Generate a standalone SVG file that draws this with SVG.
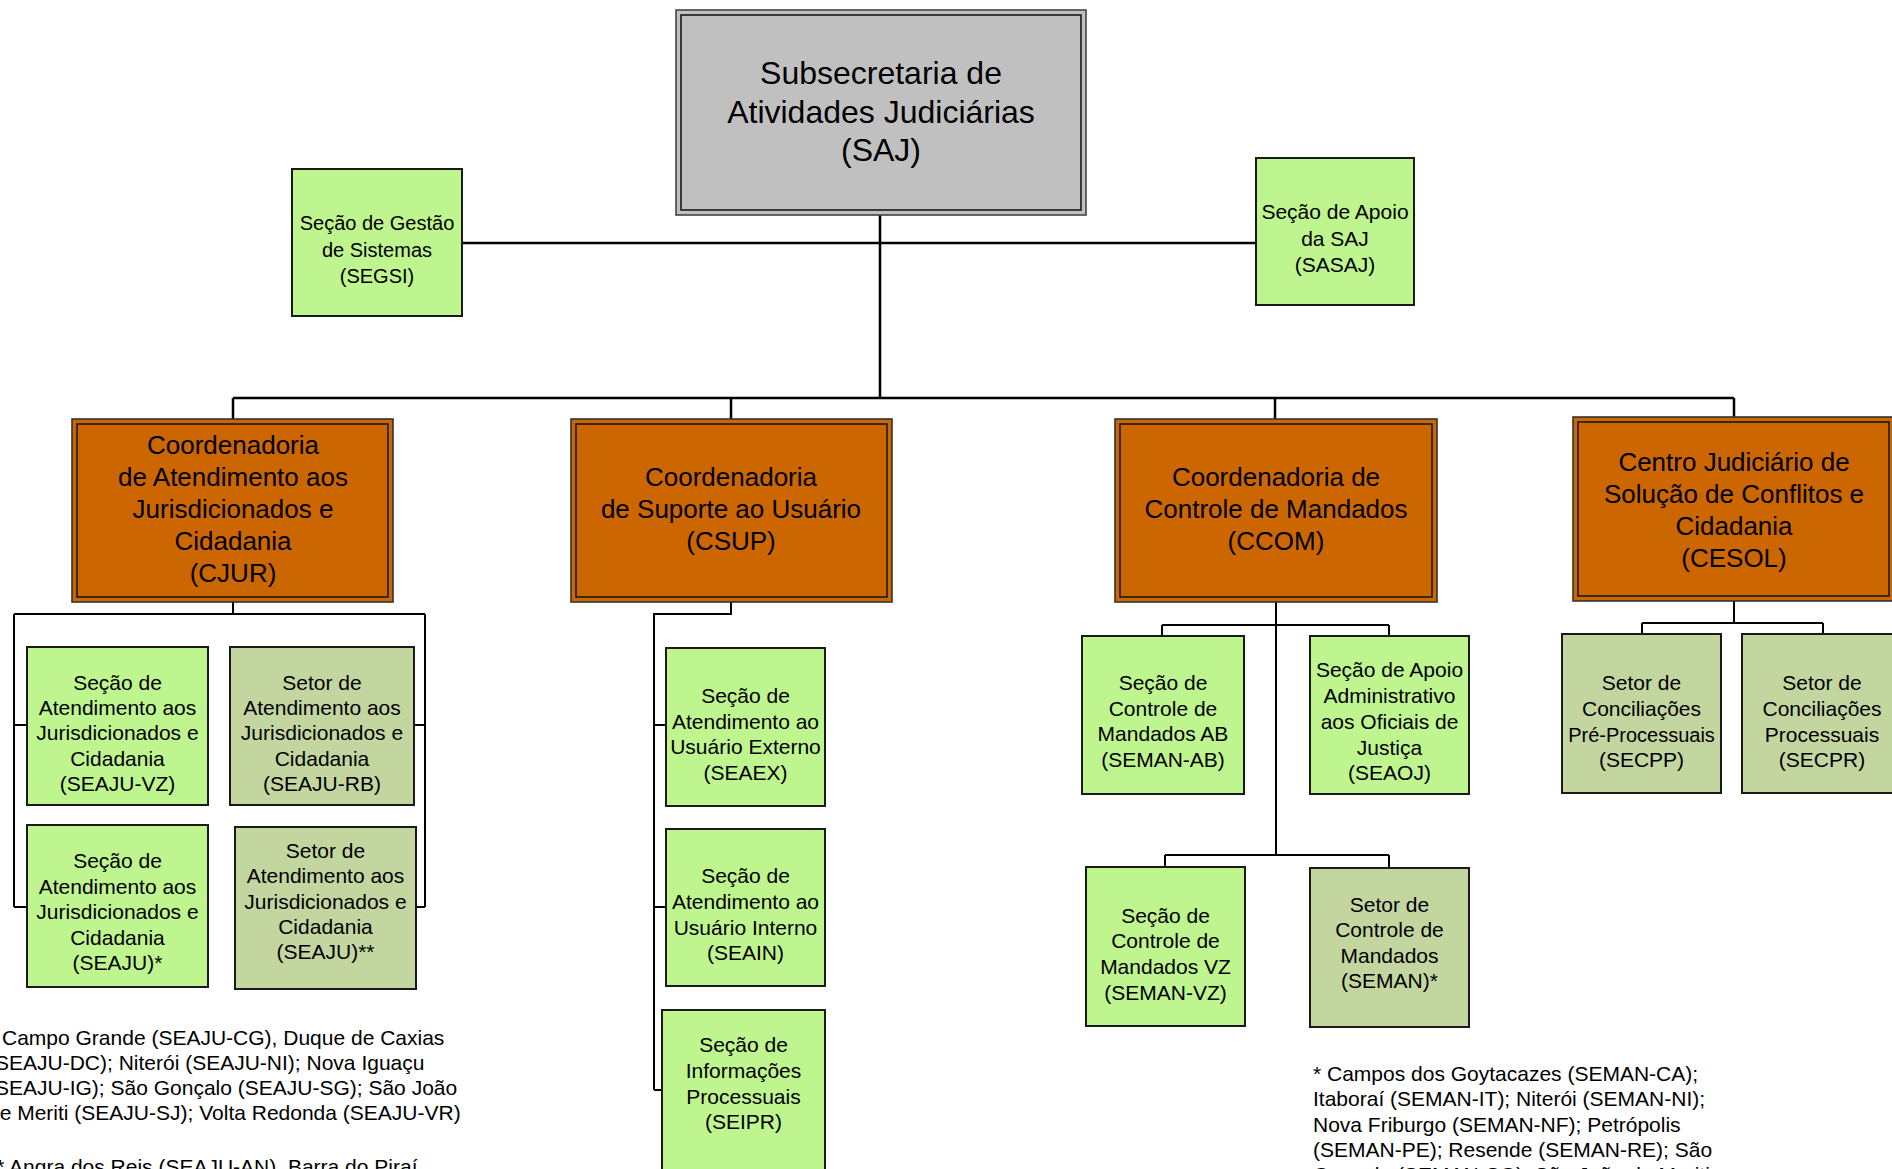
<svg xmlns="http://www.w3.org/2000/svg" width="1892" height="1169" viewBox="0 0 1892 1169">
<style>
text{font-family:"Liberation Sans",Arial,Helvetica,sans-serif;fill:#000}
.c{text-anchor:middle}
.f20{font-size:20px}.f21{font-size:21px}.f26{font-size:26px}.f32{font-size:32px}
.gr{fill:#BFF58F;stroke:#1a1a1a;stroke-width:2}
.ol{fill:#C4D6A0;stroke:#1a1a1a;stroke-width:2}
.orO{fill:#CC6600;stroke:#333;stroke-width:1.6}
.orI{fill:none;stroke:#1a1a1a;stroke-width:1.6}
.saO{fill:#C0C0C0;stroke:#444;stroke-width:1.6}
.saI{fill:none;stroke:#1a1a1a;stroke-width:1.6}
.ln{fill:none;stroke:#000;stroke-width:2}
.lm{fill:none;stroke:#000;stroke-width:2.5}
</style>
<rect width="1892" height="1169" fill="#fff"/>
<g id="connectors">
<path class="lm" d="M880 215V398M462 243H1256M233 398H1734M233 398V419M731 398V419M1275 398V419M1734 398V417"/>
<path class="ln" d="M233 602V614M14 614H425M14 614V907M425 614V907M14 725H27M14 907H27M414 725H425M416 907H425"/>
<path class="ln" d="M731 602V614H654V1090M654 725H666M654 907H666M654 1090H662"/>
<path class="ln" d="M1276 602V855M1162 625H1389M1162 625V636M1389 625V636M1165 855H1389M1165 855V867M1389 855V868"/>
<path class="ln" d="M1734 601V623M1642 623H1823M1642 623V634M1823 623V634"/>
</g>
<g id="SAJ">
<rect class="saO" x="676" y="10" width="410" height="205"/>
<rect class="saI" x="681" y="15" width="400" height="195"/>
<text class="c f32" x="881" y="84">Subsecretaria de</text>
<text class="c f32" x="881" y="123">Atividades Judiciárias</text>
<text class="c f32" x="881" y="161">(SAJ)</text>
</g>
<g id="SEGSI">
<rect class="gr" x="292" y="169" width="170" height="147"/>
<text class="c f20" x="377" y="230">Seção de Gestão</text>
<text class="c f20" x="377" y="257">de Sistemas</text>
<text class="c f20" x="377" y="283">(SEGSI)</text>
</g>
<g id="SASAJ">
<rect class="gr" x="1256" y="158" width="158" height="147"/>
<text class="c f21" x="1335" y="219">Seção de Apoio</text>
<text class="c f21" x="1335" y="246">da SAJ</text>
<text class="c f21" x="1335" y="272">(SASAJ)</text>
</g>
<g id="CJUR">
<rect class="orO" x="72" y="419" width="321" height="183"/>
<rect class="orI" x="77" y="424" width="311" height="173"/>
<text class="c f26" x="233" y="454">Coordenadoria</text>
<text class="c f26" x="233" y="486">de Atendimento aos</text>
<text class="c f26" x="233" y="518">Jurisdicionados e</text>
<text class="c f26" x="233" y="550">Cidadania</text>
<text class="c f26" x="233" y="582">(CJUR)</text>
</g>
<g id="CSUP">
<rect class="orO" x="571" y="419" width="321" height="183"/>
<rect class="orI" x="576" y="424" width="311" height="173"/>
<text class="c f26" x="731" y="486">Coordenadoria</text>
<text class="c f26" x="731" y="518">de Suporte ao Usuário</text>
<text class="c f26" x="731" y="550">(CSUP)</text>
</g>
<g id="CCOM">
<rect class="orO" x="1115" y="419" width="322" height="183"/>
<rect class="orI" x="1120" y="424" width="312" height="173"/>
<text class="c f26" x="1276" y="486">Coordenadoria de</text>
<text class="c f26" x="1276" y="518">Controle de Mandados</text>
<text class="c f26" x="1276" y="550">(CCOM)</text>
</g>
<g id="CESOL">
<rect class="orO" x="1573" y="417" width="322" height="184"/>
<rect class="orI" x="1578" y="422" width="311" height="174"/>
<text class="c f26" x="1734" y="471">Centro Judiciário de</text>
<text class="c f26" x="1734" y="503">Solução de Conflitos e</text>
<text class="c f26" x="1734" y="535">Cidadania</text>
<text class="c f26" x="1734" y="567">(CESOL)</text>
</g>
<g id="SEAJU-VZ">
<rect class="gr" x="27" y="647" width="181" height="158"/>
<text class="c f21" x="117.5" y="689.5">Seção de</text>
<text class="c f21" x="117.5" y="714.5">Atendimento aos</text>
<text class="c f21" x="117.5" y="740">Jurisdicionados e</text>
<text class="c f21" x="117.5" y="765.5">Cidadania</text>
<text class="c f21" x="117.5" y="790.5">(SEAJU-VZ)</text>
</g>
<g id="SEAJU-RB">
<rect class="ol" x="230" y="647" width="184" height="158"/>
<text class="c f21" x="322" y="689.5">Setor de</text>
<text class="c f21" x="322" y="714.5">Atendimento aos</text>
<text class="c f21" x="322" y="740">Jurisdicionados e</text>
<text class="c f21" x="322" y="765.5">Cidadania</text>
<text class="c f21" x="322" y="790.5">(SEAJU-RB)</text>
</g>
<g id="SEAJU-1">
<rect class="gr" x="27" y="825" width="181" height="162"/>
<text class="c f21" x="117.5" y="868">Seção de</text>
<text class="c f21" x="117.5" y="894">Atendimento aos</text>
<text class="c f21" x="117.5" y="919">Jurisdicionados e</text>
<text class="c f21" x="117.5" y="945">Cidadania</text>
<text class="c f21" x="117.5" y="970">(SEAJU)*</text>
</g>
<g id="SEAJU-2">
<rect class="ol" x="235" y="827" width="181" height="162"/>
<text class="c f21" x="325.5" y="858">Setor de</text>
<text class="c f21" x="325.5" y="883">Atendimento aos</text>
<text class="c f21" x="325.5" y="908.5">Jurisdicionados e</text>
<text class="c f21" x="325.5" y="934">Cidadania</text>
<text class="c f21" x="325.5" y="959">(SEAJU)**</text>
</g>
<g id="SEAEX">
<rect class="gr" x="666" y="648" width="159" height="158"/>
<text class="c f21" x="745.5" y="703">Seção de</text>
<text class="c f21" x="745.5" y="728.5">Atendimento ao</text>
<text class="c f21" x="745.5" y="754">Usuário Externo</text>
<text class="c f21" x="745.5" y="780">(SEAEX)</text>
</g>
<g id="SEAIN">
<rect class="gr" x="666" y="829" width="159" height="157"/>
<text class="c f21" x="745.5" y="883">Seção de</text>
<text class="c f21" x="745.5" y="908.5">Atendimento ao</text>
<text class="c f21" x="745.5" y="934.5">Usuário Interno</text>
<text class="c f21" x="745.5" y="960">(SEAIN)</text>
</g>
<g id="SEIPR">
<rect class="gr" x="662" y="1010" width="163" height="170"/>
<text class="c f21" x="743.5" y="1052">Seção de</text>
<text class="c f21" x="743.5" y="1078">Informações</text>
<text class="c f21" x="743.5" y="1103.5">Processuais</text>
<text class="c f21" x="743.5" y="1129">(SEIPR)</text>
</g>
<g id="SEMAN-AB">
<rect class="gr" x="1082" y="636" width="162" height="158"/>
<text class="c f21" x="1163" y="690">Seção de</text>
<text class="c f21" x="1163" y="715.5">Controle de</text>
<text class="c f21" x="1163" y="741">Mandados AB</text>
<text class="c f21" x="1163" y="766.5">(SEMAN-AB)</text>
</g>
<g id="SEAOJ">
<rect class="gr" x="1310" y="636" width="159" height="158"/>
<text class="c f21" x="1389.5" y="677">Seção de Apoio</text>
<text class="c f21" x="1389.5" y="703">Administrativo</text>
<text class="c f21" x="1389.5" y="729">aos Oficiais de</text>
<text class="c f21" x="1389.5" y="754.5">Justiça</text>
<text class="c f21" x="1389.5" y="780">(SEAOJ)</text>
</g>
<g id="SEMAN-VZ">
<rect class="gr" x="1086" y="867" width="159" height="159"/>
<text class="c f21" x="1165.5" y="922.5">Seção de</text>
<text class="c f21" x="1165.5" y="948">Controle de</text>
<text class="c f21" x="1165.5" y="973.5">Mandados VZ</text>
<text class="c f21" x="1165.5" y="999.5">(SEMAN-VZ)</text>
</g>
<g id="SEMAN">
<rect class="ol" x="1310" y="868" width="159" height="159"/>
<text class="c f21" x="1389.5" y="911.5">Setor de</text>
<text class="c f21" x="1389.5" y="937">Controle de</text>
<text class="c f21" x="1389.5" y="962.5">Mandados</text>
<text class="c f21" x="1389.5" y="988">(SEMAN)*</text>
</g>
<g id="SECPP">
<rect class="ol" x="1562" y="634" width="159" height="159"/>
<text class="c f21" x="1641.5" y="689.5">Setor de</text>
<text class="c f21" x="1641.5" y="715.5">Conciliações</text>
<text class="c f20" x="1641.5" y="741.5">Pré-Processuais</text>
<text class="c f21" x="1641.5" y="766.5">(SECPP)</text>
</g>
<g id="SECPR">
<rect class="ol" x="1742" y="634" width="160" height="159"/>
<text class="c f21" x="1822" y="689.5">Setor de</text>
<text class="c f21" x="1822" y="715.5">Conciliações</text>
<text class="c f21" x="1822" y="741.5">Processuais</text>
<text class="c f21" x="1822" y="766.5">(SECPR)</text>
</g>
<g id="notes">
<text class="f21" x="-12" y="1045">* Campo Grande (SEAJU-CG), Duque de Caxias</text>
<text class="f21" x="-12" y="1070">(SEAJU-DC); Niterói (SEAJU-NI); Nova Iguaçu</text>
<text class="f21" x="-12" y="1095">(SEAJU-IG); São Gonçalo (SEAJU-SG); São João</text>
<text class="f21" x="-12" y="1120">de Meriti (SEAJU-SJ); Volta Redonda (SEAJU-VR)</text>
<text class="f21" x="-12" y="1174">** Angra dos Reis (SEAJU-AN), Barra do Piraí</text>
<text class="f21" x="1313" y="1081">* Campos dos Goytacazes (SEMAN-CA);</text>
<text class="f21" x="1313" y="1106">Itaboraí (SEMAN-IT); Niterói (SEMAN-NI);</text>
<text class="f21" x="1313" y="1132">Nova Friburgo (SEMAN-NF); Petrópolis</text>
<text class="f21" x="1313" y="1157">(SEMAN-PE); Resende (SEMAN-RE); São</text>
<text class="f21" x="1313" y="1182">Gonçalo (SEMAN-SG); São João de Meriti</text>
</g>
</svg>
